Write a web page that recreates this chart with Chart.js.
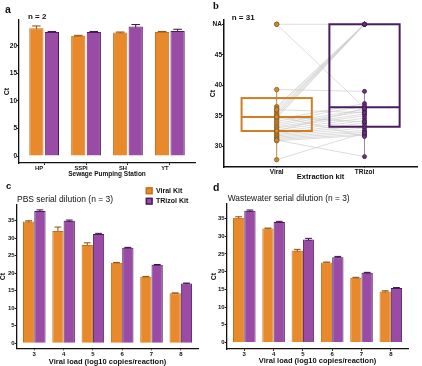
<!DOCTYPE html>
<html>
<head>
<meta charset="utf-8">
<script src="https://cdn.jsdelivr.net/npm/chart.js@4.4.1/dist/chart.umd.min.js"></script>
<style>
  html, body { margin: 0; padding: 0; background: #fff; }
  body { width: 422px; height: 366px; position: relative; overflow: hidden; }
  canvas { position: absolute; }
</style>
</head>
<body>
<canvas id="chartA" width="211" height="182" style="left:0;top:0"></canvas>
<canvas id="chartB" width="214" height="182" style="left:208px;top:0"></canvas>
<canvas id="chartC" width="211" height="188" style="left:0;top:178px"></canvas>
<canvas id="chartD" width="214" height="188" style="left:208px;top:178px"></canvas>
<script>
// Panel a: sewage pumping stations
const stations = ["HP", "SSPI", "SH", "YT"];
const stationViral = [23.2, 21.8, 22.4, 22.5];
const stationViralErr = [0.4, 0.1, 0.1, 0.1];
const stationTrizol = [22.5, 22.5, 23.5, 22.7];
const stationTrizolErr = [0.1, 0.1, 0.35, 0.3];
const stationTicks = [0, 5, 10, 15, 20];

// Panel b: paired samples (NA plotted at 50)
const kits = ["Viral", "TRizol"];
const pairViral = [50, 50, 39.3, 36.5, 36.2, 35.8, 35.5, 35.2, 34.9, 34.6, 34.4, 34.1, 33.8, 33.5, 33.2, 33.0,
  32.7, 32.4, 32.1, 31.9, 31.7, 31.5, 31.3, 31.1, 30.9, 35.0, 27.8, 31.0, 36.0, 34.8, 32.5];
const pairTrizol = [50, 36.3, 39.0, 50, 50, 50, 50, 50, 50, 50, 37.0, 36.6, 36.0, 35.7, 35.3, 35.0,
  34.6, 34.2, 33.8, 33.4, 33.0, 32.6, 32.3, 32.0, 31.8, 31.6, 32.2, 28.3, 35.5, 34.0, 36.2];
const boxQ1 = [32.5, 33.2];
const boxMedian = [34.8, 36.4];
const boxQ3 = [37.9, 50];
const rangeLow = [27.8, 28.3];
const rangeHigh = [39.3, 39.0];
const kitTicks = [30, 35, 40, 45, 50];
const naValue = 50;

// Panels c and d: serial dilutions
const loads = ["3", "4", "5", "6", "7", "8"];
const pbsViral = [34.8, 32.1, 28.1, 23.0, 19.0, 14.3];
const pbsViralErr = [0.2, 1.1, 0.6, 0.1, 0.1, 0.1];
const pbsTrizol = [37.8, 35.0, 31.2, 27.3, 22.4, 17.1];
const pbsTrizolErr = [0.3, 0.2, 0.2, 0.1, 0.1, 0.1];
const wwViral = [35.2, 32.2, 26.0, 22.6, 18.3, 14.4];
const wwViralErr = [0.3, 0.1, 0.3, 0.1, 0.1, 0.2];
const wwTrizol = [37.2, 34.0, 29.1, 24.1, 19.7, 15.4];
const wwTrizolErr = [0.2, 0.2, 0.3, 0.2, 0.1, 0.1];
const dilutionTicks = [0, 5, 10, 15, 20, 25, 30, 35];

const FONT = "'Liberation Sans', Arial, sans-serif";
Chart.defaults.font.family = FONT;
Chart.defaults.color = "#111";

const ORANGE = "#E8892B", ORANGE_EDGE = "#C46F1C", ORANGE_ERR = "#8A4E12";
const PURPLE = "#9A4BA6", PURPLE_EDGE = "#4A1D57", PURPLE_ERR = "#35123F";

// free text per canvas (panel letters, sample sizes, titles)
const panelTexts = {
  chartA: [
    { text: "a", x: 5, y: 10, font: "bold 10.5px " + FONT },
    { text: "n = 2", x: 28, y: 16.7, font: "bold 8px " + FONT },
  ],
  chartB: [
    { text: "b", x: 5, y: 6, font: "bold 10.5px 'Liberation Serif', serif" },
    { text: "n = 31", x: 23.7, y: 17.5, font: "bold 8px " + FONT },
  ],
  chartC: [
    { text: "c", x: 6, y: 8, font: "bold 9.5px " + FONT },
    { text: "PBS serial dilution (n = 3)", x: 17, y: 22, font: "8.5px " + FONT },
  ],
  chartD: [
    { text: "d", x: 5, y: 9.7, font: "bold 10.5px " + FONT },
    { text: "Wastewater serial dilution (n = 3)", x: 19.7, y: 20.3, font: "8.4px " + FONT },
  ],
};
const legendSpots = { chartC: { x: 145.7, y: 12.8, gap: 10.4 } };

const panelText = {
  id: "panelText",
  afterDraw(chart) {
    const ctx = chart.ctx;
    ctx.save();
    ctx.textBaseline = "middle";
    ctx.fillStyle = "#111";
    (panelTexts[chart.canvas.id] || []).forEach((t) => {
      ctx.font = t.font;
      ctx.fillText(t.text, t.x, t.y);
    });
    ctx.restore();
  },
};

const squareLegend = {
  id: "squareLegend",
  afterDraw(chart) {
    const spot = legendSpots[chart.canvas.id];
    if (!spot) return;
    const ctx = chart.ctx;
    ctx.save();
    chart.data.datasets.forEach((ds, i) => {
      const y = spot.y + i * spot.gap;
      ctx.fillStyle = ds.backgroundColor;
      ctx.fillRect(spot.x, y - 3.5, 7, 7);
      ctx.strokeStyle = ds.borderColor;
      ctx.lineWidth = 1.4;
      ctx.strokeRect(spot.x + 0.7, y - 2.8, 5.6, 5.6);
      ctx.fillStyle = "#111";
      ctx.font = "bold 7px " + FONT;
      ctx.textBaseline = "middle";
      ctx.fillText(ds.label, spot.x + 10.3, y);
    });
    ctx.restore();
  },
};

// error bars go under the bars, so only the upper half shows
const errorBars = {
  id: "errorBars",
  beforeDatasetsDraw(chart) {
    const ctx = chart.ctx;
    const y = chart.scales.y;
    chart.data.datasets.forEach((ds, i) => {
      if (!ds.errors) return;
      ctx.save();
      ctx.strokeStyle = ds.errorColor;
      ctx.lineWidth = 1;
      chart.getDatasetMeta(i).data.forEach((bar, j) => {
        const v = ds.data[j].y;
        const top = y.getPixelForValue(v + ds.errors[j]);
        const bottom = y.getPixelForValue(v - ds.errors[j]);
        const half = bar.width * 0.3;
        ctx.beginPath();
        ctx.moveTo(bar.x, bottom);
        ctx.lineTo(bar.x, top);
        ctx.moveTo(bar.x - half, top);
        ctx.lineTo(bar.x + half, top);
        ctx.moveTo(bar.x - half, bottom);
        ctx.lineTo(bar.x + half, bottom);
        ctx.stroke();
      });
      ctx.restore();
    });
  },
};

const fixedTicks = (values) => (scale) => {
  scale.ticks = values.map((v) => ({ value: v }));
};

function barPanel(id, cfg) {
  const toPoints = (arr) => arr.map((v, i) => ({ x: i + 1, y: v }));
  const barStyle = { categoryPercentage: cfg.catPct, barPercentage: cfg.barPct, borderWidth: 1 };
  return new Chart(document.getElementById(id), {
    type: "bar",
    data: {
      datasets: [
        { label: "Viral Kit", data: toPoints(cfg.viral), errors: cfg.viralErr, errorColor: ORANGE_ERR,
          backgroundColor: ORANGE, borderColor: ORANGE_EDGE, ...barStyle },
        { label: "TRizol Kit", data: toPoints(cfg.trizol), errors: cfg.trizolErr, errorColor: PURPLE_ERR,
          backgroundColor: PURPLE, borderColor: PURPLE_EDGE, ...barStyle },
      ],
    },
    options: {
      responsive: false,
      animation: false,
      events: [],
      layout: { padding: cfg.padding },
      scales: {
        x: {
          type: "linear",
          offset: false,
          min: 0.4,
          max: cfg.labels.length + 0.6,
          afterBuildTicks: fixedTicks(cfg.labels.map((_, i) => i + 1)),
          afterFit: (s) => { s.height = cfg.xHeight; },
          grid: { offset: false, drawOnChartArea: false, tickLength: 2, color: "#222" },
          border: { color: "#111", width: 1.3 },
          ticks: { padding: 0, autoSkip: false, maxRotation: 0, labelOffset: cfg.labelOffset || 0,
            font: { size: cfg.xTickSize || cfg.tickSize, weight: "bold" }, callback: (v) => cfg.labels[v - 1] },
          title: { display: true, text: cfg.xTitle, font: { size: cfg.xTitleSize, weight: "bold" },
            padding: { top: 0, bottom: cfg.xTitlePad } },
        },
        y: {
          min: cfg.yMin,
          max: cfg.yMax,
          afterBuildTicks: fixedTicks(cfg.yTicks),
          afterFit: (s) => { s.width = cfg.yWidth; },
          grid: { drawOnChartArea: false, tickLength: 2, color: "#222" },
          border: { color: "#111", width: 1.3 },
          ticks: { padding: 0, font: { size: cfg.tickSize, weight: "bold" } },
          title: { display: true, text: "Ct", font: { size: 7, weight: "bold" },
            padding: { top: cfg.yTitlePad, bottom: 0 } },
        },
      },
      plugins: { legend: { display: false }, tooltip: { enabled: false } },
    },
    plugins: [errorBars, panelText, squareLegend],
  });
}

barPanel("chartA", {
  labels: stations, viral: stationViral, viralErr: stationViralErr,
  trizol: stationTrizol, trizolErr: stationTrizolErr,
  yMin: -1.27, yMax: 24.68, yTicks: stationTicks,
  catPct: 0.74, barPct: 0.92, labelOffset: -5,
  padding: { left: 0, top: 20, right: 16, bottom: 0 }, yWidth: 19, xHeight: 19,
  tickSize: 6.5, xTickSize: 5.8, xTitle: "Sewage Pumping Station", xTitleSize: 6.5, xTitlePad: 3.8, yTitlePad: 2.5,
});

barPanel("chartC", {
  labels: loads, viral: pbsViral, viralErr: pbsViralErr,
  trizol: pbsTrizol, trizolErr: pbsTrizolErr,
  yMin: -1.43, yMax: 39.5, yTicks: dilutionTicks,
  catPct: 0.77, barPct: 1.0,
  padding: { left: 0, top: 27, right: 12.6, bottom: 0 }, yWidth: 16.7, xHeight: 17.7,
  tickSize: 6, xTitle: "Viral load (log10 copies/reaction)", xTitleSize: 7.5, xTitlePad: 0, yTitlePad: -0.9,
});

barPanel("chartD", {
  labels: loads, viral: wwViral, viralErr: wwViralErr,
  trizol: wwTrizol, trizolErr: wwTrizolErr,
  yMin: -1.84, yMax: 39.1, yTicks: dilutionTicks,
  catPct: 0.77, barPct: 1.0,
  padding: { left: 0, top: 26, right: 13.6, bottom: 0 }, yWidth: 18.7, xHeight: 17,
  tickSize: 6, xTitle: "Viral load (log10 copies/reaction)", xTitleSize: 7.5, xTitlePad: 0.5, yTitlePad: 2.1,
});

// Panel b: box plots with paired lines
const boxColors = ["#CF7F22", "#4B1C5C"];
const rangeColors = ["#B07A3A", "#8A7A92"];
const boxWidth = 0.8;

const boxPlot = {
  id: "boxPlot",
  // drawn after the grey pair lines, before the points
  beforeDatasetDraw(chart, args) {
    if (args.index !== 1) return;
    const { ctx, scales: { x, y } } = chart;
    const half = x.getPixelForValue(1 + boxWidth / 2) - x.getPixelForValue(1);
    kits.forEach((kit, k) => {
      const cx = x.getPixelForValue(k + 1);
      ctx.save();
      ctx.strokeStyle = rangeColors[k];
      ctx.lineWidth = 0.9;
      ctx.beginPath();
      ctx.moveTo(cx, y.getPixelForValue(rangeLow[k]));
      ctx.lineTo(cx, y.getPixelForValue(rangeHigh[k]));
      ctx.stroke();
      const top = y.getPixelForValue(boxQ3[k]);
      const bottom = y.getPixelForValue(boxQ1[k]);
      const mid = y.getPixelForValue(boxMedian[k]);
      ctx.strokeStyle = boxColors[k];
      ctx.lineWidth = 2;
      ctx.strokeRect(cx - half, top, 2 * half, bottom - top);
      ctx.beginPath();
      ctx.moveTo(cx - half, mid);
      ctx.lineTo(cx + half, mid);
      ctx.stroke();
      ctx.restore();
    });
  },
};

new Chart(document.getElementById("chartB"), {
  type: "scatter",
  data: {
    datasets: [
      { label: "Viral", data: pairViral.map((v) => ({ x: 1, y: v })),
        pointRadius: 2.2, pointBackgroundColor: "#C98A3A", pointBorderColor: "#8E5B17", pointBorderWidth: 0.8 },
      { label: "TRizol", data: pairTrizol.map((v) => ({ x: 2, y: v })),
        pointRadius: 2, pointBackgroundColor: "#6A3479", pointBorderColor: "#3E1450", pointBorderWidth: 0.8 },
      ...pairViral.map((v, i) => ({
        data: [{ x: 1, y: v }, { x: 2, y: pairTrizol[i] }],
        showLine: true, pointRadius: 0, borderColor: "#CDCDCD", borderWidth: 0.7,
      })),
    ],
  },
  options: {
    responsive: false,
    animation: false,
    events: [],
    layout: { padding: { left: 0, top: 20, right: 4.4, bottom: 0 } },
    scales: {
      x: {
        type: "linear",
        min: 0.4,
        max: 2.6,
        afterBuildTicks: fixedTicks([1, 2]),
        afterFit: (s) => { s.height = 15; },
        grid: { drawOnChartArea: false, tickLength: 1, color: "#222" },
        border: { color: "#111", width: 1.5 },
        ticks: { padding: 0, font: { size: 6.5, weight: "bold" }, callback: (v) => kits[v - 1] },
        title: { display: true, text: "Extraction kit", font: { size: 7.5, weight: "bold" },
          padding: { top: 0, bottom: 0.8 } },
      },
      y: {
        min: 26.6,
        max: 50.7,
        afterBuildTicks: fixedTicks(kitTicks),
        afterFit: (s) => { s.width = 16; },
        grid: { drawOnChartArea: false, tickLength: 2, color: "#222" },
        border: { color: "#111", width: 1.5 },
        ticks: { padding: 0, font: { size: 6.5, weight: "bold" },
          callback: (v) => (v === naValue ? "NA" : v) },
        title: { display: true, text: "Ct", font: { size: 7, weight: "bold" }, padding: { top: 1.3, bottom: 0 } },
      },
    },
    plugins: { legend: { display: false }, tooltip: { enabled: false } },
  },
  plugins: [boxPlot, panelText],
});
</script>
</body>
</html>
